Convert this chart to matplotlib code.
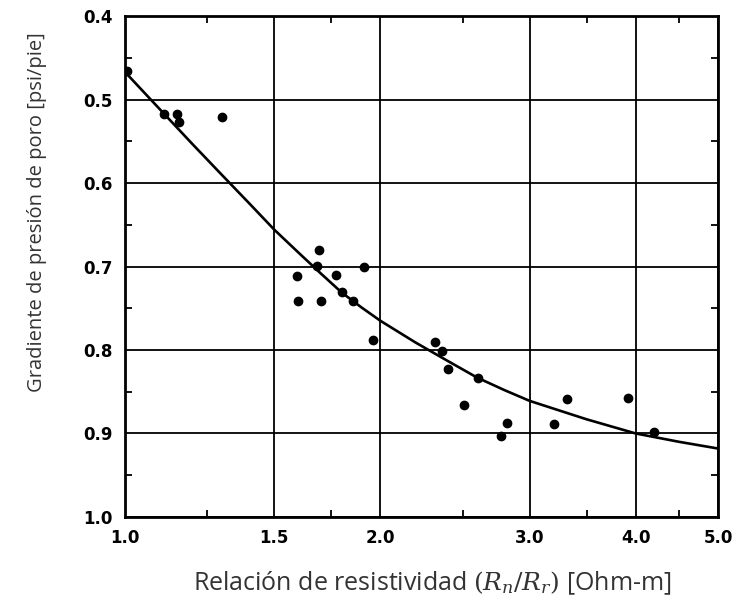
import numpy as np
import matplotlib
matplotlib.use("Agg")
import matplotlib.pyplot as plt
from matplotlib.ticker import FixedLocator, NullFormatter

# measured points (resistivity ratio, pore pressure gradient)
ratio = [1.005, 1.112, 1.151, 1.158, 1.300, 1.693, 1.684, 1.595, 1.771, 1.913,
         1.801, 1.601, 1.703, 1.858, 1.962, 2.320, 2.362, 2.405, 2.609, 2.512,
         2.818, 2.775, 3.200, 3.317, 3.914, 4.204]
gradient = [0.466, 0.517, 0.517, 0.527, 0.521, 0.680, 0.699, 0.711, 0.710, 0.701,
            0.730, 0.741, 0.741, 0.741, 0.788, 0.791, 0.801, 0.823, 0.833, 0.866,
            0.887, 0.903, 0.889, 0.859, 0.858, 0.898]

# trend curve
curve_x = [1.0, 1.1, 1.2, 1.3, 1.4, 1.5, 1.6, 1.7, 1.8, 1.9, 2.0, 2.2, 2.4,
           2.6, 2.8, 3.0, 3.5, 4.0, 4.5, 5.0]
curve_y = [0.467, 0.512, 0.553, 0.590, 0.624, 0.656, 0.683, 0.708, 0.731, 0.749,
           0.765, 0.791, 0.813, 0.833, 0.848, 0.861, 0.883, 0.900, 0.910, 0.918]

x_ticks = [1.0, 1.5, 2.0, 3.0, 4.0, 5.0]
x_minor = [1.25, 1.75, 2.5, 3.5, 4.5]
y_ticks = [0.4, 0.5, 0.6, 0.7, 0.8, 0.9, 1.0]
y_minor = [0.45, 0.55, 0.65, 0.75, 0.85, 0.95]

plt.rcParams['mathtext.fontset'] = 'dejavuserif'

fig = plt.figure(figsize=(7.33, 6.05), dpi=100)
ax = fig.add_axes([0.1705, 0.1455, 0.809, 0.828])

ax.plot(curve_x, curve_y, color='black', lw=1.9, zorder=3)
ax.plot(ratio, gradient, 'o', color='black', ms=6, zorder=4)

ax.set_xscale('log')
ax.set_xlim(1.0, 5.0)
ax.set_ylim(1.0, 0.4)

ax.xaxis.set_major_locator(FixedLocator(x_ticks))
ax.xaxis.set_minor_locator(FixedLocator(x_minor))
ax.xaxis.set_minor_formatter(NullFormatter())
ax.set_xticklabels([f"{v:.1f}" for v in x_ticks])
ax.yaxis.set_major_locator(FixedLocator(y_ticks))
ax.yaxis.set_minor_locator(FixedLocator(y_minor))
ax.set_yticklabels([f"{v:.1f}" for v in y_ticks])

ax.tick_params(which='major', length=0, labelsize=12, pad=9)
ax.tick_params(which='minor', direction='in', length=5, width=1.3,
               top=True, bottom=True, left=True, right=True)
for lab in ax.get_xticklabels() + ax.get_yticklabels():
    lab.set_fontweight('bold')
    lab.set_family('DejaVu Sans')

ax.grid(True, which='major', color='black', lw=1.3)
for s in ax.spines.values():
    s.set_linewidth(2)

ax.set_xlabel(r"Relación de resistividad $(R_n/R_r)$ [Ohm-m]", family='Open Sans',
              fontsize=18, color='#333333', va='center')
ax.set_ylabel("Gradiente de presión de poro [psi/pie]", family='Open Sans',
              fontsize=14.5, color='#333333', va='center')
ax.xaxis.set_label_coords(0.518, -0.132)
ax.yaxis.set_label_coords(-0.148, 0.609)

fig.savefig('out.png', dpi=100)
